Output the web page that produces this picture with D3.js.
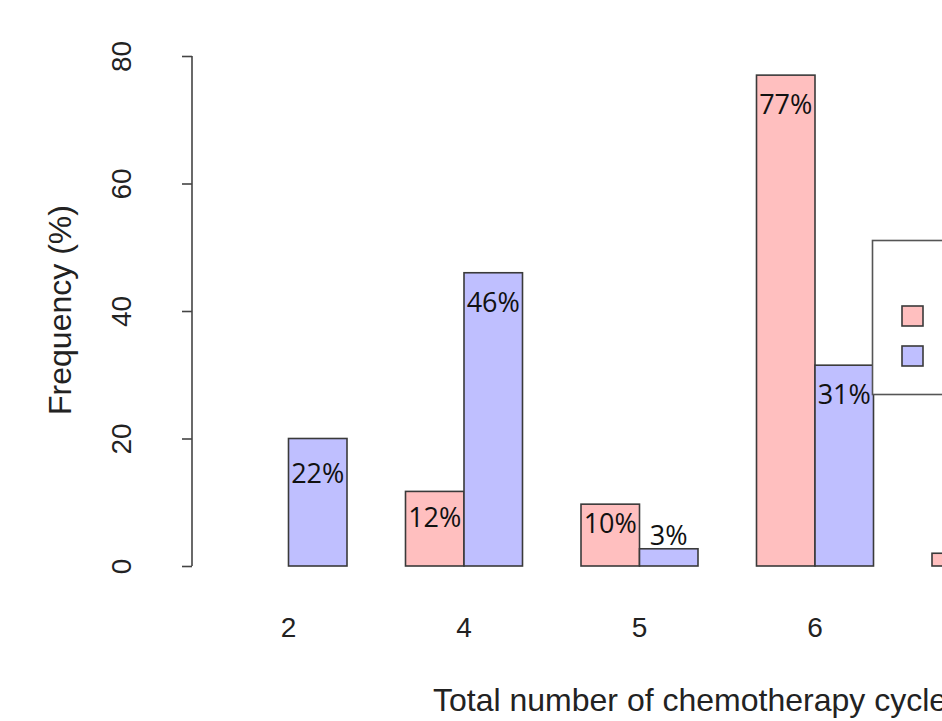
<!DOCTYPE html>
<html>
<head>
<meta charset="utf-8">
<script src="https://cdn.jsdelivr.net/npm/d3@7"></script>
<style>
  html, body { margin: 0; padding: 0; background: #fff; }
  svg { display: block; }
</style>
</head>
<body>
<svg id="chart" width="942" height="721"></svg>
<script>
// ---- data ----
const categories = ["2", "4", "5", "6", "7"];
const seriesNames = ["Group A", "Group B"];
const seriesA = [0, 11.7, 9.7, 77, 2];        // pink bars
const seriesB = [20, 46, 2.7, 31.5, 0];       // blue bars
const labelsA = ["", "12%", "10%", "77%", "2%"];
const labelsB = ["22%", "46%", "3%", "31%", ""];
const yTicks = [0, 20, 40, 60, 80];

// ---- layout ----
const svg = d3.select("#chart");
const colA = "#FFBFBF", colB = "#BFBFFF", stroke = "#3a3a3a";
const axisFont = "Liberation Sans, Arial, sans-serif";

const y = d3.scaleLinear().domain([0, 80]).range([566, 56]);
// bar units (R barplot, beside, space = c(0,1))
const x = d3.scaleLinear().domain([0, 1]).range([171.5, 230]);
const barW = x(1) - x(0);

const bars = [];
categories.forEach((c, i) => {
  bars.push({ cat: c, s: 0, v: seriesA[i], lab: labelsA[i], u: 1 + 3 * i });
  bars.push({ cat: c, s: 1, v: seriesB[i], lab: labelsB[i], u: 2 + 3 * i });
});

svg.append("g").selectAll("rect")
  .data(bars.filter(d => d.v > 0))
  .join("rect")
  .attr("x", d => x(d.u))
  .attr("y", d => y(d.v))
  .attr("width", barW)
  .attr("height", d => y(0) - y(d.v))
  .attr("fill", d => d.s === 0 ? colA : colB)
  .attr("stroke", stroke)
  .attr("stroke-width", 1.6);

// legend (cut off at right edge)
const leg = svg.append("g");
leg.append("rect").attr("x", 872.5).attr("y", 240.5).attr("width", 100).attr("height", 154)
  .attr("fill", "#fff").attr("stroke", "#555").attr("stroke-width", 1.6);
[colA, colB].forEach((c, i) => {
  leg.append("rect").attr("x", 902).attr("y", 306 + i * 40).attr("width", 21).attr("height", 20)
    .attr("fill", c).attr("stroke", stroke).attr("stroke-width", 1.6);
});

// y axis
const yAxis = d3.axisLeft(y).tickValues(yTicks).tickSize(10).tickPadding(0).tickFormat(d3.format("d"));
const gy = svg.append("g").attr("transform", "translate(192,0)").call(yAxis);
gy.select(".domain").attr("d", `M0,${y(80)}V${y(0)}`).attr("stroke", "#444").attr("stroke-width", 1.6);
gy.selectAll(".tick line").attr("stroke", "#444").attr("stroke-width", 1.6);
gy.selectAll(".tick text")
  .attr("font-family", axisFont)
  .attr("font-size", 28)
  .attr("fill", "#222")
  .attr("text-anchor", "middle")
  .attr("transform", "translate(-71,0) rotate(-90)")
  .attr("x", 0).attr("y", 0).attr("dy", "0.35em");

// x category labels
svg.append("g").selectAll("text")
  .data(categories)
  .join("text")
  .attr("x", (d, i) => x(2 + 3 * i))
  .attr("y", 637)
  .attr("text-anchor", "middle")
  .attr("font-family", axisFont)
  .attr("font-size", 28)
  .attr("fill", "#222")
  .text(d => d);

// bar percentage labels
svg.append("g").selectAll("text")
  .data(bars.filter(d => d.lab))
  .join("text")
  .attr("x", d => x(d.u + 0.5))
  .attr("y", d => d.v < 6 ? y(d.v) - 4 : y(d.v) + (d.v < 11 ? 29 : d.v < 15 ? 36 : d.v < 25 ? 44 : 39))
  .attr("text-anchor", "middle")
  .attr("font-family", "Open Sans, sans-serif")
  .attr("font-size", 27)
  .attr("fill", "#111")
  .text(d => d.lab);

// axis titles
svg.append("text")
  .attr("x", 433).attr("y", 711)
  .attr("font-family", axisFont)
  .attr("font-size", 32).attr("fill", "#222")
  .text("Total number of chemotherapy cycles");

svg.append("text")
  .attr("transform", "translate(71,310) rotate(-90)")
  .attr("text-anchor", "middle")
  .attr("font-family", axisFont)
  .attr("font-size", 32).attr("fill", "#222")
  .text("Frequency (%)");
</script>
</body>
</html>
